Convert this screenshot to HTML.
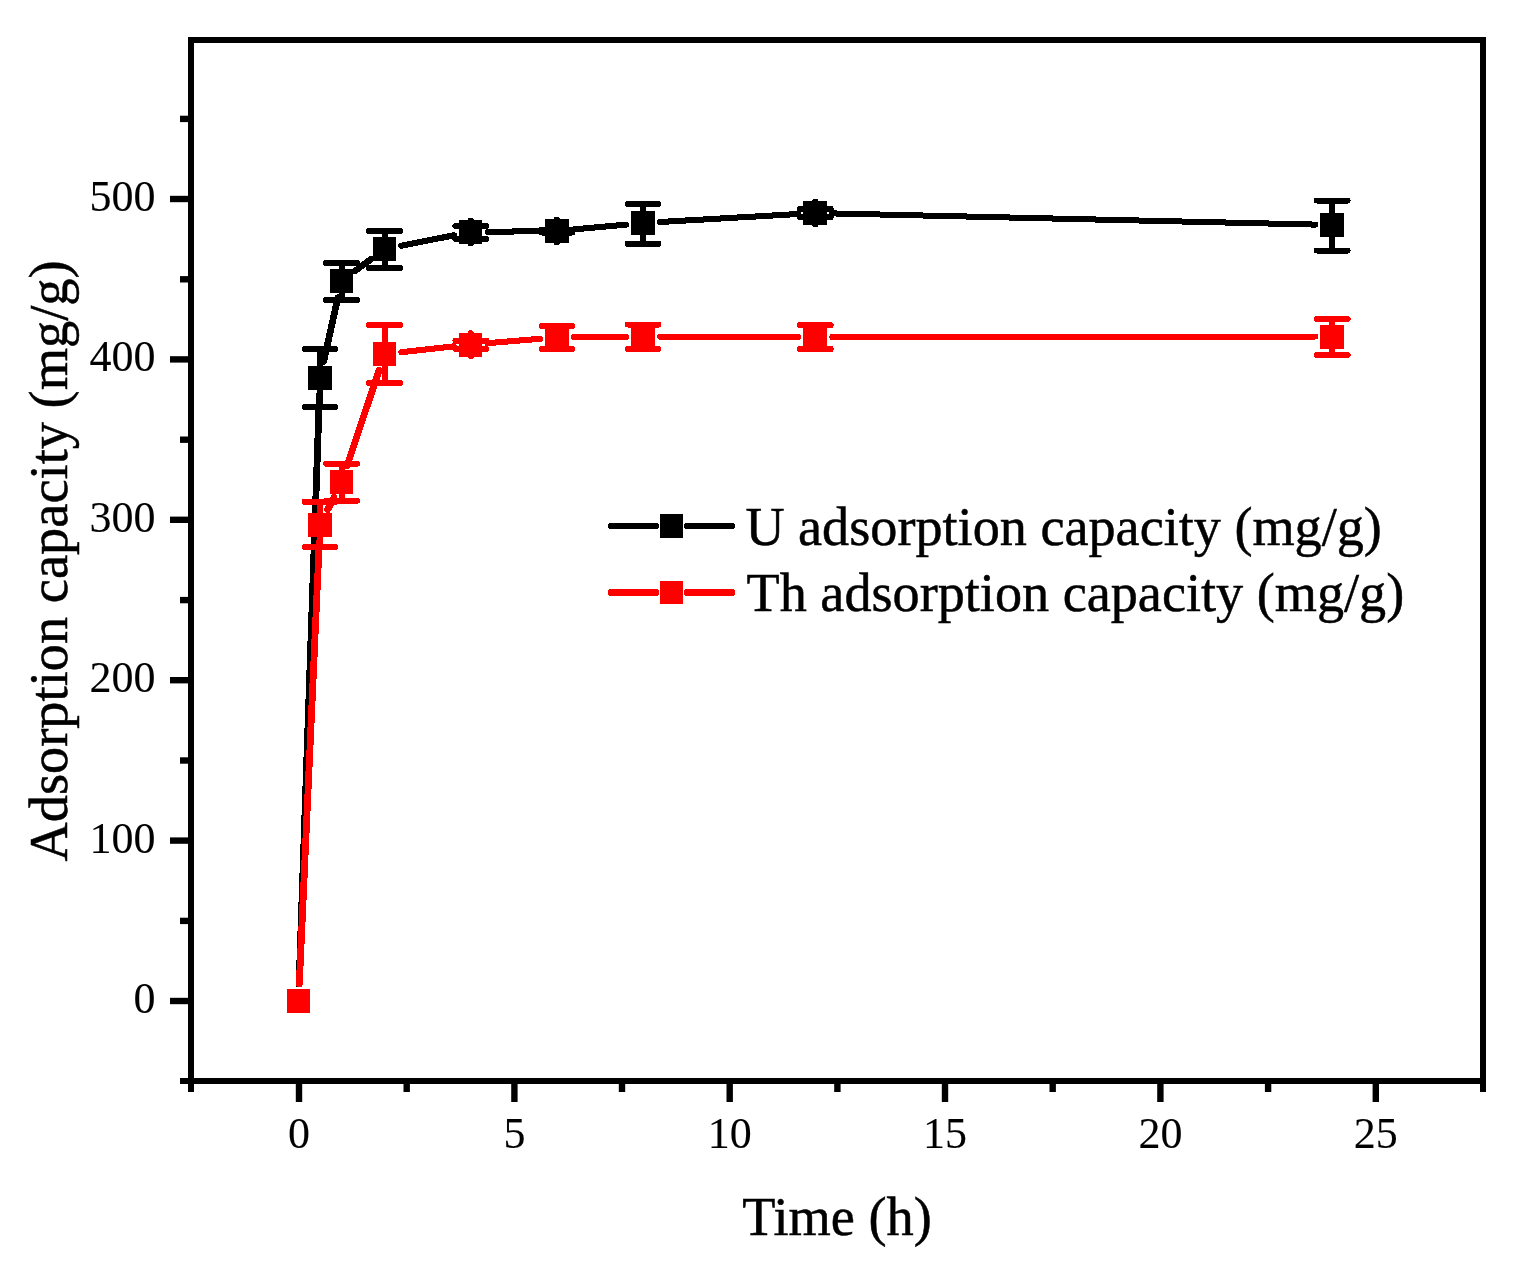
<!DOCTYPE html>
<html lang="en"><head><meta charset="utf-8"><title>Adsorption capacity vs time</title>
<style>html,body{margin:0;padding:0;background:#fff}body{width:1513px;height:1273px;overflow:hidden}svg{display:block}text{font-family:"Liberation Serif","Times New Roman",serif;fill:#000;stroke:#000;stroke-width:0.5px}g.tk text{stroke-width:0.1px}</style>
</head><body>
<svg shape-rendering="crispEdges" width="1513" height="1273" viewBox="0 0 1513 1273">
<rect x="0" y="0" width="1513" height="1273" fill="#fff"/>
<rect x="191" y="40" width="1292" height="1041" fill="none" stroke="#000" stroke-width="6"/>
<g stroke="#000" stroke-width="6.4" fill="none" shape-rendering="geometricPrecision">
<line x1="170" y1="1001.0" x2="189" y2="1001.0"/>
<line x1="170" y1="840.6" x2="189" y2="840.6"/>
<line x1="170" y1="680.2" x2="189" y2="680.2"/>
<line x1="170" y1="519.8" x2="189" y2="519.8"/>
<line x1="170" y1="359.4" x2="189" y2="359.4"/>
<line x1="170" y1="199.0" x2="189" y2="199.0"/>
<line x1="180" y1="1081" x2="189" y2="1081" stroke-width="6"/>
<line x1="180" y1="920.9" x2="189" y2="920.9"/>
<line x1="180" y1="760.5" x2="189" y2="760.5"/>
<line x1="180" y1="600.1" x2="189" y2="600.1"/>
<line x1="180" y1="439.7" x2="189" y2="439.7"/>
<line x1="180" y1="279.3" x2="189" y2="279.3"/>
<line x1="180" y1="118.9" x2="189" y2="118.9"/>
<line x1="299.0" y1="1083" x2="299.0" y2="1102"/>
<line x1="514.4" y1="1083" x2="514.4" y2="1102"/>
<line x1="729.7" y1="1083" x2="729.7" y2="1102"/>
<line x1="945.0" y1="1083" x2="945.0" y2="1102"/>
<line x1="1160.4" y1="1083" x2="1160.4" y2="1102"/>
<line x1="1375.8" y1="1083" x2="1375.8" y2="1102"/>
<line x1="191" y1="1083" x2="191" y2="1092" stroke-width="6"/>
<line x1="406.7" y1="1083" x2="406.7" y2="1092"/>
<line x1="622.0" y1="1083" x2="622.0" y2="1092"/>
<line x1="837.4" y1="1083" x2="837.4" y2="1092"/>
<line x1="1052.7" y1="1083" x2="1052.7" y2="1092"/>
<line x1="1268.1" y1="1083" x2="1268.1" y2="1092"/>
<line x1="1483" y1="1083" x2="1483" y2="1092" stroke-width="6"/>
</g>
<g class="tk" font-size="44px">
<text x="155.5" y="1013.4" text-anchor="end">0</text>
<text x="155.5" y="853.4" text-anchor="end">100</text>
<text x="155.5" y="692.4" text-anchor="end">200</text>
<text x="155.5" y="532.4" text-anchor="end">300</text>
<text x="155.5" y="371.4" text-anchor="end">400</text>
<text x="155.5" y="211.4" text-anchor="end">500</text>
<text x="299.0" y="1148.3" text-anchor="middle">0</text>
<text x="514.4" y="1148.3" text-anchor="middle">5</text>
<text x="729.7" y="1148.3" text-anchor="middle">10</text>
<text x="945.0" y="1148.3" text-anchor="middle">15</text>
<text x="1160.4" y="1148.3" text-anchor="middle">20</text>
<text x="1375.8" y="1148.3" text-anchor="middle">25</text>
</g>
<text x="837" y="1235" font-size="54.3px" text-anchor="middle">Time (h)</text>
<text transform="translate(66.6 561.0) rotate(-90)" font-size="54.4px" text-anchor="middle">Adsorption capacity (mg/g)</text>
<g stroke="#000" fill="#000" stroke-linecap="round">
<line x1="299.1" y1="984.0" x2="319.4" y2="395.0" stroke-width="6.80"/>
<line x1="323.7" y1="361.4" x2="337.9" y2="297.6" stroke-width="6.78"/>
<line x1="355.2" y1="270.9" x2="371.0" y2="259.1" stroke-width="6.48"/>
<line x1="401.3" y1="245.7" x2="454.1" y2="235.3" stroke-width="6.15"/>
<line x1="487.8" y1="231.8" x2="539.9" y2="231.2" stroke-width="6.01"/>
<line x1="573.8" y1="229.4" x2="626.1" y2="224.6" stroke-width="6.07"/>
<line x1="660.0" y1="222.0" x2="798.4" y2="214.0" stroke-width="6.05"/>
<line x1="832.3" y1="213.4" x2="1315.2" y2="224.6" stroke-width="6.02"/>
<path d="M320.0 366.5V349.0M320.0 389.5V407.0M304.6 349.0H335.4M304.6 407.0H335.4" stroke-width="6" fill="none"/>
<path d="M341.6 269.5V263.0M341.6 292.5V300.0M326.2 263.0H357.0M326.2 300.0H357.0" stroke-width="6" fill="none"/>
<path d="M384.6 237.5V231.0M384.6 260.5V268.0M369.2 231.0H400.0M369.2 268.0H400.0" stroke-width="6" fill="none"/>
<path d="M470.8 220.5V226.0M470.8 243.5V239.0M455.4 226.0H486.2M455.4 239.0H486.2" stroke-width="6" fill="none"/>
<path d="M556.9 219.5V229.5M556.9 242.5V232.5M541.5 229.5H572.3M541.5 232.5H572.3" stroke-width="6" fill="none"/>
<path d="M643.1 211.5V204.0M643.1 234.5V243.7M627.7 204.0H658.5M627.7 243.7H658.5" stroke-width="6" fill="none"/>
<path d="M815.3 201.5V209.0M815.3 224.5V217.0M799.9 209.0H830.7M799.9 217.0H830.7" stroke-width="6" fill="none"/>
<path d="M1332.2 213.5V200.5M1332.2 236.5V250.5M1316.8 200.5H1347.6M1316.8 250.5H1347.6" stroke-width="6" fill="none"/>
<rect x="287" y="989.0" width="23" height="24" stroke="none"/>
<rect x="308" y="366.0" width="24" height="24" stroke="none"/>
<rect x="330" y="269.0" width="23" height="24" stroke="none"/>
<rect x="373" y="237.0" width="23" height="24" stroke="none"/>
<rect x="459" y="220.0" width="23" height="24" stroke="none"/>
<rect x="545" y="219.0" width="24" height="24" stroke="none"/>
<rect x="631" y="211.0" width="24" height="24" stroke="none"/>
<rect x="803" y="201.0" width="24" height="24" stroke="none"/>
<rect x="1320" y="213.0" width="24" height="24" stroke="none"/>
</g>
<g stroke="#f00" fill="#f00" stroke-linecap="round">
<line x1="299.3" y1="984.0" x2="319.3" y2="542.0" stroke-width="6.80"/>
<line x1="327.6" y1="509.8" x2="334.0" y2="497.2" stroke-width="6.72"/>
<line x1="347.0" y1="465.9" x2="379.2" y2="370.1" stroke-width="6.76"/>
<line x1="401.5" y1="352.2" x2="453.9" y2="346.4" stroke-width="6.09"/>
<line x1="487.7" y1="343.2" x2="540.0" y2="338.8" stroke-width="6.07"/>
<line x1="573.9" y1="337.3" x2="626.1" y2="336.9" stroke-width="6.01"/>
<line x1="660.1" y1="336.8" x2="798.3" y2="337.0" stroke-width="6.00"/>
<line x1="832.3" y1="337.0" x2="1315.2" y2="336.5" stroke-width="6.00"/>
<path d="M320.0 513.5V501.7M320.0 536.5V547.0M304.6 501.7H335.4M304.6 547.0H335.4" stroke-width="6" fill="none"/>
<path d="M341.6 470.5V463.7M341.6 493.5V500.7M326.2 463.7H357.0M326.2 500.7H357.0" stroke-width="6" fill="none"/>
<path d="M384.6 342.5V325.0M384.6 365.5V383.0M369.2 325.0H400.0M369.2 383.0H400.0" stroke-width="6" fill="none"/>
<path d="M470.8 333.1V340.5M470.8 356.1V348.7M455.4 340.5H486.2M455.4 348.7H486.2" stroke-width="6" fill="none"/>
<path d="M556.9 325.9V326.0M556.9 348.9V349.0M541.5 326.0H572.3M541.5 349.0H572.3" stroke-width="6" fill="none"/>
<path d="M643.1 325.3V324.5M643.1 348.3V349.0M627.7 324.5H658.5M627.7 349.0H658.5" stroke-width="6" fill="none"/>
<path d="M815.3 325.5V325.2M815.3 348.5V349.0M799.9 325.2H830.7M799.9 349.0H830.7" stroke-width="6" fill="none"/>
<path d="M1332.2 325.0V319.0M1332.2 348.0V355.0M1316.8 319.0H1347.6M1316.8 355.0H1347.6" stroke-width="6" fill="none"/>
<rect x="287" y="989.0" width="23" height="24" stroke="none"/>
<rect x="308" y="513.0" width="24" height="24" stroke="none"/>
<rect x="330" y="470.0" width="23" height="24" stroke="none"/>
<rect x="373" y="342.0" width="23" height="24" stroke="none"/>
<rect x="459" y="332.6" width="23" height="24" stroke="none"/>
<rect x="545" y="325.4" width="24" height="24" stroke="none"/>
<rect x="631" y="324.8" width="24" height="24" stroke="none"/>
<rect x="803" y="325.0" width="24" height="24" stroke="none"/>
<rect x="1320" y="324.5" width="24" height="24" stroke="none"/>
</g>
<g fill="#000"><rect x="608" y="523.0" width="51" height="6" rx="2.2"/><rect x="684" y="523.0" width="51" height="6" rx="2.2"/><rect x="660" y="514" width="23" height="24"/></g>
<text x="745.4" y="545" font-size="54.2px">U adsorption capacity (mg/g)</text>
<g fill="#f00"><rect x="608" y="589.0" width="51" height="7" rx="2.2"/><rect x="684" y="589.0" width="51" height="7" rx="2.2"/><rect x="660" y="581.0" width="23" height="23"/></g>
<text x="746.6" y="611" font-size="54.2px">Th adsorption capacity (mg/g)</text>
</svg></body></html>
